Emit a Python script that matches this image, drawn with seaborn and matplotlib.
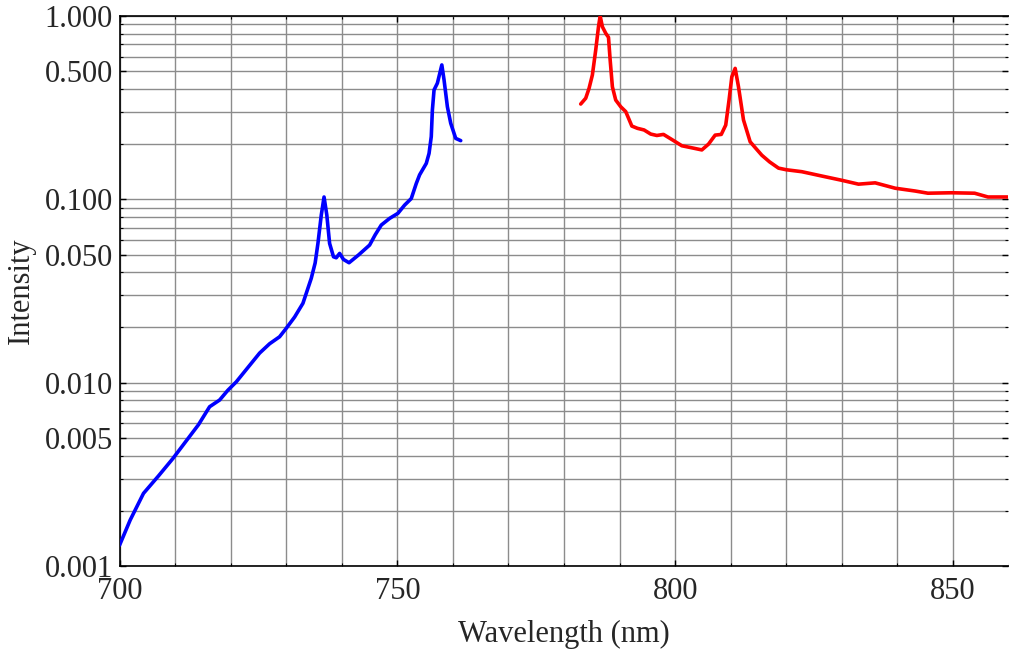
import numpy as np
import pandas as pd
import matplotlib
matplotlib.use("Agg")
import matplotlib.pyplot as plt
import matplotlib.ticker as mticker
import seaborn as sns

# Blue spectrum (short wavelength side)
blue_wavelength = [700.0, 701.9, 704.3, 707.0, 709.6, 712.1, 714.2, 716.2, 718.0, 719.5,
                   721.0, 723.0, 725.2, 727.0, 728.8, 730.0, 731.5, 733.0, 734.5, 735.2,
                   735.7, 736.3, 736.8, 737.3, 737.8, 738.5, 739.0, 739.6, 740.3, 741.3,
                   743.0, 745.0, 746.0, 747.1, 748.6, 750.1, 751.3, 752.5, 753.4, 754.0,
                   755.2, 755.7, 756.1, 756.3, 756.6, 757.2, 758.0, 758.4, 759.0, 759.6,
                   760.5, 761.4]
blue_intensity = [0.0013, 0.00178, 0.00249, 0.0031, 0.00386, 0.00486, 0.0059, 0.00739, 0.00804, 0.0091,
                  0.0101, 0.0120, 0.0145, 0.0163, 0.0178, 0.0198, 0.0228, 0.0271, 0.0371, 0.045,
                  0.0575, 0.082, 0.103, 0.082, 0.0575, 0.0486, 0.048, 0.0507, 0.047, 0.0451,
                  0.0497, 0.0563, 0.064, 0.0724, 0.0787, 0.0839, 0.093, 0.101, 0.122, 0.136,
                  0.157, 0.178, 0.22, 0.307, 0.395, 0.43, 0.541, 0.448, 0.32, 0.26,
                  0.215, 0.209]

# Red spectrum (long wavelength side)
red_wavelength = [783.0, 783.9, 784.5, 785.1, 785.7, 786.2, 786.5, 786.9, 787.5, 788.0,
                  788.3, 788.7, 789.3, 790.2, 791.1, 791.5, 792.2, 793.2, 794.4, 795.6,
                  796.7, 797.9, 799.4, 801.2, 803.0, 804.8, 806.0, 807.2, 808.3, 809.1,
                  809.7, 810.2, 810.8, 811.4, 812.3, 813.5, 814.5, 815.6, 817.0, 818.6,
                  820.0, 822.8, 826.4, 830.0, 833.0, 836.0, 839.6, 843.2, 845.5, 849.7,
                  853.9, 856.3, 859.9]
red_intensity = [0.331, 0.356, 0.403, 0.477, 0.652, 0.874, 1.0, 0.874, 0.805, 0.765,
                 0.575, 0.411, 0.348, 0.320, 0.301, 0.282, 0.251, 0.244, 0.239, 0.227,
                 0.223, 0.226, 0.212, 0.196, 0.191, 0.186, 0.200, 0.224, 0.226, 0.254,
                 0.348, 0.466, 0.518, 0.411, 0.271, 0.206, 0.190, 0.174, 0.160, 0.148,
                 0.145, 0.1415, 0.134, 0.127, 0.121, 0.123, 0.115, 0.111, 0.108, 0.1086,
                 0.108, 0.103, 0.103]

x_ticks = [700, 750, 800, 850]
y_ticks = [0.001, 0.005, 0.010, 0.050, 0.100, 0.500, 1.000]

sns.set_style("ticks")
plt.rcParams["font.family"] = ["Liberation Serif", "DejaVu Serif"]

fig = plt.figure(figsize=(10.09, 6.51), dpi=100)
ax = fig.add_axes([119.6 / 1009, 1 - 566 / 651, (1008.5 - 119.6) / 1009, 550 / 651])

df_blue = pd.DataFrame({"Wavelength": blue_wavelength, "Intensity": blue_intensity})
df_red = pd.DataFrame({"Wavelength": red_wavelength, "Intensity": red_intensity})

sns.lineplot(data=df_blue, x="Wavelength", y="Intensity", color="#0000ff", linewidth=2.6,
             ax=ax, estimator=None, sort=False, zorder=3)
sns.lineplot(data=df_red, x="Wavelength", y="Intensity", color="#ff0000", linewidth=2.6,
             ax=ax, estimator=None, sort=False, zorder=3)

ax.set_yscale("log")
ax.set_xlim(700, 860)
ax.set_ylim(0.001, 1.0)

ax.set_xticks(x_ticks)
ax.set_xticklabels([str(t) for t in x_ticks])
ax.xaxis.set_minor_locator(mticker.MultipleLocator(10))
ax.set_yticks(y_ticks)
ax.set_yticklabels([f"{t:.3f}" for t in y_ticks])
ax.yaxis.set_minor_locator(mticker.LogLocator(base=10, subs=np.arange(2, 10)))
ax.yaxis.set_minor_formatter(mticker.NullFormatter())

ax.grid(True, which="both", axis="both", color="0.55", linewidth=1.0, zorder=0)
ax.set_axisbelow(True)

ax.tick_params(axis="both", which="both", direction="in", top=True, right=True,
               labelsize=22, color="black")
ax.tick_params(axis="both", which="major", length=4, width=1.0)
ax.tick_params(axis="both", which="minor", length=2.5, width=0.8)
ax.tick_params(axis="x", which="major", pad=8)
ax.tick_params(axis="y", which="major", pad=5)

for s in ["left", "bottom", "top"]:
    ax.spines[s].set_color("black")
    ax.spines[s].set_linewidth(1.2)
ax.spines["right"].set_visible(False)

ax.set_xlabel("Wavelength (nm)", fontsize=22, labelpad=10)
ax.set_ylabel("Intensity", fontsize=22, labelpad=6)

fig.savefig("out.png", dpi=100)
